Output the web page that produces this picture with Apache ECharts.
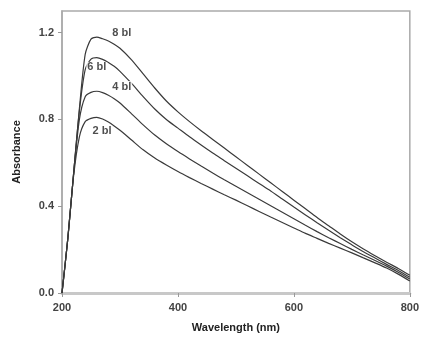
<!DOCTYPE html>
<html><head><meta charset="utf-8">
<script src="https://cdn.jsdelivr.net/npm/echarts@6/dist/echarts.min.js"></script>
<style>html,body{margin:0;padding:0;background:#fff}#c{width:422px;height:341px}</style>
</head><body><div id="c"></div>
<script>
const wavelengths = [200,210,220,230,240,250,260,270,280,290,300,320,340,360,380,400,420,440,460,480,500,520,540,560,580,600,620,640,660,680,700,720,740,760,780,800];
const bl2 = [0,0.25,0.54,0.72,0.79,0.805,0.81,0.802,0.788,0.77,0.75,0.705,0.66,0.622,0.59,0.56,0.532,0.505,0.479,0.453,0.428,0.402,0.376,0.35,0.325,0.30,0.275,0.252,0.229,0.207,0.185,0.162,0.139,0.115,0.087,0.055];
const bl4 = [0,0.25,0.55,0.80,0.905,0.925,0.93,0.924,0.912,0.896,0.876,0.826,0.775,0.728,0.688,0.652,0.618,0.585,0.553,0.522,0.492,0.462,0.432,0.402,0.372,0.342,0.312,0.283,0.255,0.228,0.201,0.175,0.15,0.124,0.096,0.065];
const bl6 = [0,0.25,0.55,0.84,1.03,1.078,1.085,1.077,1.063,1.045,1.022,0.966,0.905,0.848,0.80,0.76,0.72,0.682,0.645,0.61,0.575,0.54,0.505,0.47,0.433,0.396,0.36,0.324,0.289,0.255,0.222,0.19,0.161,0.132,0.104,0.073];
const bl8 = [0,0.25,0.55,0.85,1.10,1.17,1.18,1.172,1.162,1.147,1.128,1.075,1.01,0.945,0.885,0.835,0.79,0.748,0.708,0.668,0.628,0.588,0.548,0.508,0.468,0.428,0.388,0.348,0.31,0.272,0.236,0.203,0.172,0.142,0.113,0.082];
const seriesNames = ['2 bl','4 bl','6 bl','8 bl'];
const labelX = [269, 303, 260, 303];
const labelY = [0.745, 0.952, 1.04, 1.20];
const yTicks = [0, 0.4, 0.8, 1.2];
const xTicks = [200, 400, 600, 800];

const all = [bl2, bl4, bl6, bl8];
const font = '"Liberation Sans", Arial, sans-serif';
const series = all.map((vals, i) => ({
  type: 'line', name: seriesNames[i],
  data: wavelengths.map((w, j) => [w, vals[j]]),
  showSymbol: false, smooth: 0.25,
  lineStyle: { color: '#3a3a3a', width: 1.2 }
}));
series.push({
  type: 'scatter', name: 'labels', symbol: 'circle', symbolSize: 1, silent: true,
  data: seriesNames.map((n, i) => ({ value: [labelX[i], labelY[i]], name: n })),
  label: { show: true, position: 'inside', formatter: p => p.name, color: '#222', fontWeight: 'bold', fontSize: 11, fontFamily: font, backgroundColor: '#fff', padding: [0, 1] },
  itemStyle: { color: 'rgba(0,0,0,0)' }, z: 5
});

const chart = echarts.init(document.getElementById('c'));
chart.setOption({
  animation: false,
  grid: { left: 62, right: 12, top: 11, bottom: 48, show: true, borderColor: '#aaa', borderWidth: 1.5 },
  xAxis: {
    type: 'value', min: 200, max: 800, interval: 200,
    name: 'Wavelength (nm)', nameLocation: 'middle', nameGap: 29,
    nameTextStyle: { fontFamily: font, fontWeight: 'bold', fontSize: 11, color: '#222' },
    axisLine: { lineStyle: { color: '#c8c8c8', width: 3 } },
    axisTick: { show: true, length: 4, lineStyle: { color: '#999' }, customValues: xTicks },
    axisLabel: { fontFamily: font, fontWeight: 'bold', fontSize: 11, color: '#444', margin: 9, customValues: xTicks },
    splitLine: { show: false }
  },
  yAxis: {
    type: 'value', min: 0, max: 1.3,
    name: 'Absorbance', nameLocation: 'middle', nameGap: 40,
    nameTextStyle: { fontFamily: font, fontWeight: 'bold', fontSize: 11, color: '#222' },
    axisLine: { show: true, lineStyle: { color: '#aaa', width: 1.5 } },
    axisTick: { show: true, length: 4, lineStyle: { color: '#999' }, customValues: yTicks },
    axisLabel: { fontFamily: font, fontWeight: 'bold', fontSize: 11, color: '#444', margin: 8, customValues: yTicks, formatter: v => v.toFixed(1) },
    splitLine: { show: false }
  },
  series: series
});
</script></body></html>
